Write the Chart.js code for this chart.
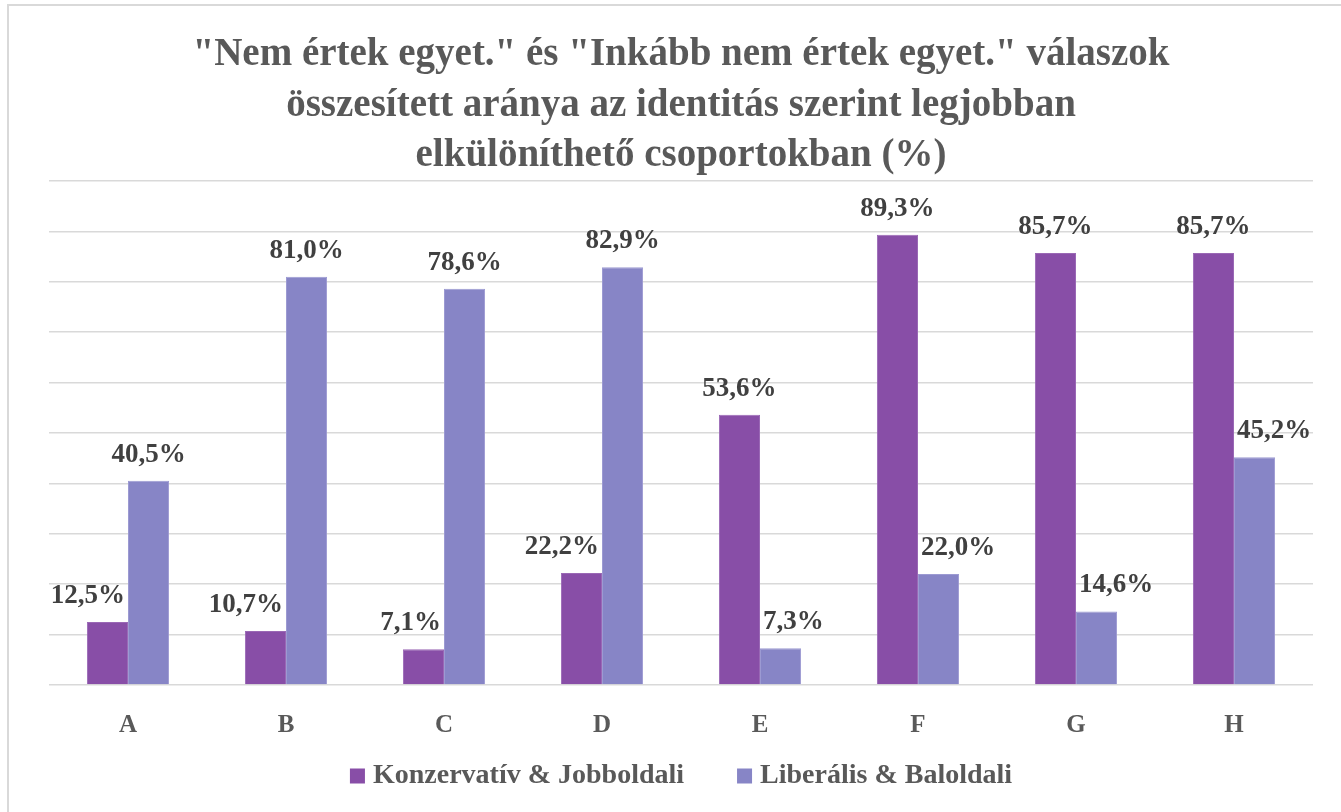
<!DOCTYPE html>
<html lang="hu">
<head>
    <meta charset="UTF-8">
    <title>Nem értek egyet - csoportok</title>
    <script src="https://cdn.jsdelivr.net/npm/chart.js"></script>
    <style>
        html, body { margin: 0; padding: 0; background: #fff; }
        #wrap {
            position: absolute; left: 7px; top: 4px;
            width: 1332px; height: 806px;
            border-left: 2px solid #d9d9d9; border-top: 2px solid #d9d9d9;
        }
    </style>
</head>
<body>
<div id="wrap"><canvas id="chart"></canvas></div>

<script>
// adatok
const categories = ['A', 'B', 'C', 'D', 'E', 'F', 'G', 'H'];
const konzervativ = [12.5, 10.7, 7.1, 22.2, 53.6, 89.3, 85.7, 85.7];
const liberalis = [40.5, 81.0, 78.6, 82.9, 7.3, 22.0, 14.6, 45.2];
const titleLines = [
    '"Nem értek egyet." és "Inkább nem értek egyet." válaszok',
    'összesített aránya az identitás szerint legjobban',
    'elkülöníthető csoportokban (%)'
];

const FONT = '"Liberation Serif", serif';

// értékcímkék a oszlopok fölé
// ha a címke belelógna a szomszédos magasabb oszlopba, oldalra toljuk (mint Excelben)
const valueLabels = {
    id: 'valueLabels',
    afterDatasetsDraw(chart) {
        const ctx = chart.ctx;
        ctx.save();
        ctx.font = 'bold 27px ' + FONT;
        ctx.fillStyle = '#404040';
        ctx.textAlign = 'center';
        ctx.textBaseline = 'middle';
        const metas = chart.data.datasets.map((ds, i) => chart.getDatasetMeta(i));
        chart.data.datasets.forEach((ds, i) => {
            metas[i].data.forEach((bar, j) => {
                const txt = ds.data[j].toFixed(1).replace('.', ',') + '%';
                const w = ctx.measureText(txt).width;
                const y = bar.y - 26;
                let x = bar.x;
                const other = metas[1 - i].data[j];
                if (other.y < y + 12) {
                    const half = bar.width / 2;
                    if (i === 0) x = Math.min(x, other.x - half - 3 - w / 2);
                    else x = Math.max(x, other.x + half + 3 + w / 2);
                }
                ctx.fillText(txt, x, y);
            });
        });
        ctx.restore();
    }
};

// jelmagyarázat alul (saját rajzolás, hogy a távolságok stimmeljenek)
const bottomLegend = {
    id: 'bottomLegend',
    afterDraw(chart) {
        const ctx = chart.ctx;
        const box = 15, gap = 8, itemGap = 53;
        const y = chart.chartArea.bottom + 91;
        ctx.save();
        ctx.font = 'bold 28px ' + FONT;
        ctx.textBaseline = 'middle';
        const items = chart.data.datasets.map(ds => ({
            text: ds.label, color: ds.backgroundColor, w: ctx.measureText(ds.label).width
        }));
        let total = items.reduce((s, it) => s + box + gap + it.w, 0) + itemGap * (items.length - 1);
        let x = (chart.chartArea.left + chart.chartArea.right) / 2 - total / 2;
        items.forEach(it => {
            ctx.fillStyle = it.color;
            ctx.fillRect(x, y - box / 2, box, box);
            x += box + gap;
            ctx.fillStyle = '#595959';
            ctx.fillText(it.text, x, y);
            x += it.w + itemGap;
        });
        ctx.restore();
    }
};

new Chart(document.getElementById('chart'), {
    type: 'bar',
    data: {
        labels: categories,
        datasets: [{
            label: 'Konzervatív & Jobboldali',
            data: konzervativ,
            backgroundColor: '#884ea7',
            borderColor: '#9a68b5',
            borderWidth: 1
        }, {
            label: 'Liberális & Baloldali',
            data: liberalis,
            backgroundColor: '#8785c6',
            borderColor: '#9c9ad2',
            borderWidth: 1
        }]
    },
    options: {
        responsive: true,
        maintainAspectRatio: false,
        animation: false,
        layout: { padding: { left: 40, right: 28, top: 0, bottom: 45 } },
        datasets: { bar: { categoryPercentage: 0.52, barPercentage: 1.0 } },
        plugins: {
            title: {
                display: true,
                text: titleLines,
                color: '#595959',
                font: { family: FONT, size: 39, weight: 'bold', lineHeight: 1.29 },
                padding: { top: 24, bottom: 0 }
            },
            legend: { display: false },
            tooltip: { enabled: false }
        },
        scales: {
            x: {
                grid: { display: false, drawTicks: false },
                border: { display: false },
                ticks: {
                    color: '#595959',
                    font: { family: FONT, size: 25, weight: 'bold' },
                    padding: 26
                }
            },
            y: {
                min: 0,
                max: 100,
                ticks: { stepSize: 10, display: false },
                border: { display: false },
                grid: { color: '#d9d9d9', lineWidth: 1.5, drawTicks: false }
            }
        }
    },
    plugins: [valueLabels, bottomLegend]
});
</script>
</body>
</html>
